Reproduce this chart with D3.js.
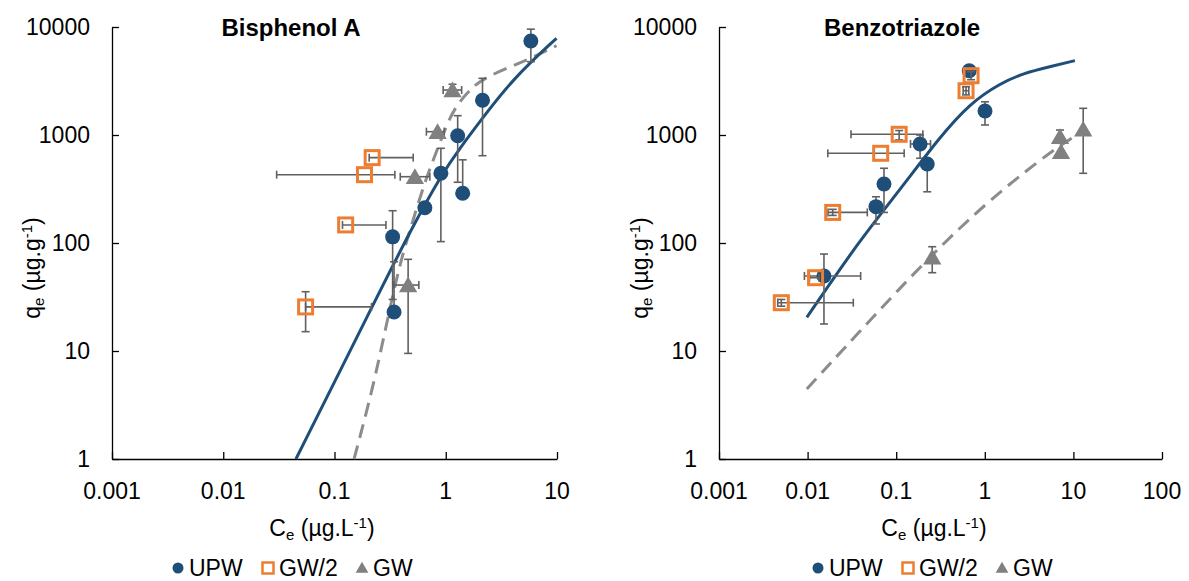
<!DOCTYPE html>
<html>
<head>
<meta charset="utf-8">
<script src="https://cdn.jsdelivr.net/npm/d3@7"></script>
<style>
  body { margin: 0; background: #fff; }
  text { font-family: "Liberation Sans", Arial, sans-serif; fill: #000; }
</style>
</head>
<body>
<div id="chart"></div>
<script>
// ---- data (C in µg/L, q in µg/g) ----
// Bisphenol A
const bpaUPW = [
  { c: 5.82, q: 7420, qLo: 4770, qHi: 9550 },
  { c: 2.14, q: 2100, qLo: 643, qHi: 3350 },
  { c: 1.28, q: 985, qLo: 365, qHi: 1510 },
  { c: 1.42, q: 289, qLo: 289, qHi: 589 },
  { c: 0.904, q: 442, qLo: 103, qHi: 753 },
  { c: 0.649, q: 212 },
  { c: 0.333, q: 114, qLo: 30, qHi: 199 },
  { c: 0.343, q: 23, qLo: 23, qHi: 67 }
];
const bpaGW2 = [
  { c: 0.218, q: 617, cLo: 0.205, cHi: 0.51 },
  { c: 0.186, q: 429, cLo: 0.0302, cHi: 0.349 },
  { c: 0.126, q: 147, cLo: 0.118, cHi: 0.29 },
  { c: 0.055, q: 25.6, qLo: 15.1, qHi: 35.4, cHi: 0.215 }
];
const bpaGW = [
  { c: 1.15, q: 2610, qLo: 2400, qHi: 2950, cLo: 0.948, cHi: 1.39 },
  { c: 0.844, q: 1073, cLo: 0.67, cHi: 0.97 },
  { c: 0.528, q: 411, cLo: 0.39, cHi: 0.72 },
  { c: 0.459, q: 40.8, qLo: 9.5, qHi: 70.6, cLo: 0.337, cHi: 0.573 }
];
const bpaFitUPW = [[0.045, 1], [0.218, 25.7], [0.459, 119], [0.948, 457],
  [1.34, 753], [2.02, 1327], [4.04, 3350], [9.9, 7860]];
const bpaFitGW = [[0.15, 1], [0.223, 4.67], [0.294, 18], [0.387, 64.9], [0.493, 147],
  [0.649, 370], [0.826, 700], [1.016, 1238], [1.25, 1897], [1.65, 2612], [2.17, 3395],
  [5.9, 5130], [9.9, 6710]];

// Benzotriazole
const btzUPW = [
  { c: 0.668, q: 3940, qLo: 3700, qHi: 4150 },
  { c: 1.005, q: 1667, qLo: 1238, qHi: 2030 },
  { c: 0.186, q: 826, qLo: 609, qHi: 1000, cLo: 0.145, cHi: 0.244 },
  { c: 0.224, q: 539, qLo: 298, qHi: 600 },
  { c: 0.0728, q: 352, qLo: 192, qHi: 492 },
  { c: 0.0591, q: 217, qLo: 150, qHi: 268 },
  { c: 0.0153, q: 49.5, qLo: 17.8, qHi: 79, cLo: 0.0092, cHi: 0.0397 }
];
const btzGW2 = [
  { c: 0.70, q: 3540, qLo: 3250, qHi: 3850 },
  { c: 0.614, q: 2570, qLo: 2350, qHi: 2800, cLo: 0.57, cHi: 0.66 },
  { c: 0.108, q: 1015, qLo: 900, qHi: 1100, cLo: 0.0309, cHi: 0.2 },
  { c: 0.0668, q: 677, cLo: 0.0169, cHi: 0.123 },
  { c: 0.0192, q: 192, qLo: 180, qHi: 205, cLo: 0.017, cHi: 0.0472 },
  { c: 0.0123, q: 47.7, cLo: 0.0105, cHi: 0.0135 },
  { c: 0.00505, q: 28, qLo: 26, qHi: 30, cLo: 0.0046, cHi: 0.0328 }
];
const btzGW = [
  { c: 0.255, q: 73.8, qLo: 53.1, qHi: 92.4 },
  { c: 7.06, q: 964, qLo: 850, qHi: 1112 },
  { c: 7.25, q: 700 },
  { c: 12.9, q: 1130, qLo: 442, qHi: 1766 }
];
const btzFitUPW = [[0.0098, 20.5], [0.039, 107], [0.11, 310], [0.312, 964],
  [0.68, 1965], [1.49, 3010], [2.72, 3725], [5.44, 4290], [10.4, 4880]];
const btzFitGW = [[0.0098, 4.45], [0.0328, 13.1], [0.255, 80.3], [1.146, 250],
  [2.72, 442], [5.93, 726], [9.55, 932]];

const xTicksA = [0.001, 0.01, 0.1, 1, 10];
const xTicksB = [0.001, 0.01, 0.1, 1, 10, 100];
const yTicks = [1, 10, 100, 1000, 10000];
const seriesNames = ["UPW", "GW/2", "GW"];

const blue = "#1f4e79", orange = "#ed7d31", grey = "#808080", errCol = "#606060";

const svg = d3.select("#chart").append("svg")
  .attr("width", 1189).attr("height", 581);

function fmt(v) { return v < 1 ? String(v) : d3.format("d")(v); }

function drawPanel(p) {
  const x = d3.scaleLog().domain(p.xDomain).range(p.xRange);
  const y = d3.scaleLog().domain([1, 10000]).range([459, 27]);
  const g = svg.append("g");

  // axes, ticks pointing inward like the original
  const xAxis = d3.axisBottom(x).tickValues(p.xTicks).tickSizeInner(-7).tickSizeOuter(0).tickFormat("");
  const yAxis = d3.axisLeft(y).tickValues(yTicks).tickSizeInner(-7).tickSizeOuter(0).tickFormat("");
  g.append("g").attr("transform", "translate(0,459)").call(xAxis);
  g.append("g").attr("transform", `translate(${p.xRange[0]},0)`).call(yAxis);
  g.selectAll(".domain, .tick line").attr("stroke", "#000").attr("stroke-width", 1.3);

  g.selectAll(".xlab").data(p.xTicks).join("text")
    .attr("x", d => x(d)).attr("y", 499).attr("text-anchor", "middle")
    .style("font-size", "23px").text(fmt);
  g.selectAll(".ylab").data(yTicks).join("text")
    .attr("x", p.xRange[0] - 22).attr("y", d => y(d) + 8).attr("text-anchor", "end")
    .style("font-size", "23px").text(fmt);

  // title
  g.append("text").attr("x", p.titleX).attr("y", 36).attr("text-anchor", "middle")
    .style("font-size", "24px").style("font-weight", "bold").text(p.title);

  // axis titles
  const xt = g.append("text").attr("x", p.xTitleX).attr("y", 536).attr("text-anchor", "middle")
    .style("font-size", "23px");
  xt.append("tspan").text("C");
  xt.append("tspan").attr("baseline-shift", "-25%").style("font-size", "15px").text("e");
  xt.append("tspan").text(" (µg.L");
  xt.append("tspan").attr("baseline-shift", "super").style("font-size", "15px").text("-1");
  xt.append("tspan").text(")");

  const yt = g.append("text")
    .attr("transform", `translate(${p.yTitleX},268) rotate(-90)`).attr("text-anchor", "middle")
    .style("font-size", "23px");
  yt.append("tspan").text("q");
  yt.append("tspan").attr("baseline-shift", "-25%").style("font-size", "15px").text("e");
  yt.append("tspan").text(" (µg.g");
  yt.append("tspan").attr("baseline-shift", "super").style("font-size", "15px").text("-1");
  yt.append("tspan").text(")");

  // fitted curves
  const line = d3.line().x(d => x(d[0])).y(d => y(d[1])).curve(d3.curveBasis);
  g.append("path").datum(p.fitGW).attr("d", line).attr("fill", "none")
    .attr("stroke", "#8c8c8c").attr("stroke-width", 3).attr("stroke-dasharray", "14,8");
  g.append("path").datum(p.fitUPW).attr("d", line).attr("fill", "none")
    .attr("stroke", blue).attr("stroke-width", 3);

  // series: error bars then markers
  const series = [
    { data: p.upw, shape: "circle" },
    { data: p.gw2, shape: "square" },
    { data: p.gw, shape: "triangle" }
  ];
  series.forEach(s => {
    const eg = g.append("g").attr("stroke", errCol).attr("stroke-width", 1.6).attr("fill", "none");
    s.data.forEach(d => {
      const cx = x(d.c), cy = y(d.q);
      if (d.qLo !== undefined) {
        eg.append("line").attr("x1", cx).attr("x2", cx).attr("y1", y(d.qLo)).attr("y2", y(d.qHi));
        eg.append("line").attr("x1", cx - 4).attr("x2", cx + 4).attr("y1", y(d.qLo)).attr("y2", y(d.qLo));
        eg.append("line").attr("x1", cx - 4).attr("x2", cx + 4).attr("y1", y(d.qHi)).attr("y2", y(d.qHi));
      }
      if (d.cHi !== undefined) {
        const lo = d.cLo !== undefined ? d.cLo : d.c;
        eg.append("line").attr("x1", x(lo)).attr("x2", x(d.cHi)).attr("y1", cy).attr("y2", cy);
        eg.append("line").attr("x1", x(lo)).attr("x2", x(lo)).attr("y1", cy - 4).attr("y2", cy + 4);
        eg.append("line").attr("x1", x(d.cHi)).attr("x2", x(d.cHi)).attr("y1", cy - 4).attr("y2", cy + 4);
      }
    });
    drawMarkers(g, s.data.map(d => [x(d.c), y(d.q)]), s.shape);
  });

  // legend
  const lg = g.append("g").attr("transform", `translate(${p.legendX},568)`);
  const lx = [0, 90, 184];
  seriesNames.forEach((name, i) => {
    drawMarkers(lg, [[lx[i], 0]], ["circle", "square", "triangle"][i], true);
    lg.append("text").attr("x", lx[i] + 11).attr("y", 8).style("font-size", "23px").text(name);
  });
}

function drawMarkers(g, pts, shape, small) {
  if (shape === "circle") {
    g.selectAll(null).data(pts).join("circle")
      .attr("cx", d => d[0]).attr("cy", d => d[1]).attr("r", small ? 5.5 : 7.5)
      .attr("fill", blue);
  } else if (shape === "square") {
    const s = small ? 11 : 14;
    g.selectAll(null).data(pts).join("rect")
      .attr("x", d => d[0] - s / 2).attr("y", d => d[1] - s / 2).attr("width", s).attr("height", s)
      .attr("fill", "none").attr("stroke", orange).attr("stroke-width", small ? 2.5 : 3);
  } else {
    const sym = d3.symbol().type(d3.symbolTriangle).size(small ? 70 : 145);
    g.selectAll(null).data(pts).join("path")
      .attr("transform", d => `translate(${d[0]},${d[1] + (small ? 1 : 2)})`)
      .attr("d", sym).attr("fill", grey);
  }
}

drawPanel({
  title: "Bisphenol A", titleX: 291,
  xDomain: [0.001, 10], xRange: [112, 557], xTicks: xTicksA,
  xTitleX: 322, yTitleX: 40, legendX: 178,
  upw: bpaUPW, gw2: bpaGW2, gw: bpaGW, fitUPW: bpaFitUPW, fitGW: bpaFitGW
});
drawPanel({
  title: "Benzotriazole", titleX: 902,
  xDomain: [0.001, 100], xRange: [719, 1162], xTicks: xTicksB,
  xTitleX: 934, yTitleX: 648, legendX: 818,
  upw: btzUPW, gw2: btzGW2, gw: btzGW, fitUPW: btzFitUPW, fitGW: btzFitGW
});
</script>
</body>
</html>
